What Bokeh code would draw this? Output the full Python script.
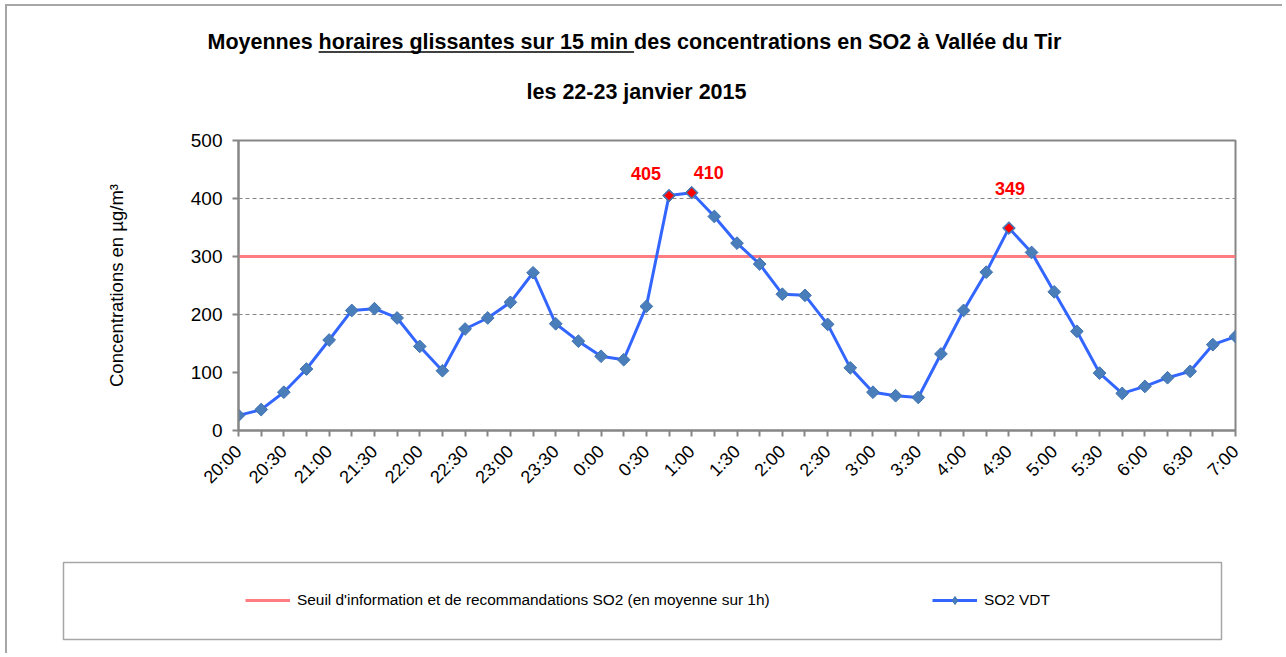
import math
from bokeh.plotting import figure
from bokeh.layouts import column
from bokeh.models import ColumnDataSource, Range1d, FixedTicker, Legend, LegendItem
from bokeh.core.properties import value
from bokeh.embed import file_html
from bokeh.resources import INLINE

# ---------------- data ----------------
heures = ["20:00", "20:15", "20:30", "20:45", "21:00", "21:15", "21:30", "21:45",
          "22:00", "22:15", "22:30", "22:45", "23:00", "23:15", "23:30", "23:45",
          "0:00", "0:15", "0:30", "0:45", "1:00", "1:15", "1:30", "1:45",
          "2:00", "2:15", "2:30", "2:45", "3:00", "3:15", "3:30", "3:45",
          "4:00", "4:15", "4:30", "4:45", "5:00", "5:15", "5:30", "5:45",
          "6:00", "6:15", "6:30", "6:45", "7:00"]
so2_vdt = [26, 36, 66, 106, 156, 207, 210, 194, 145, 103, 175, 194, 221, 272, 184, 154,
           128, 122, 214, 405, 410, 369, 323, 287, 235, 233, 183, 108, 66, 60, 57, 132,
           207, 273, 349, 307, 239, 171, 99, 64, 76, 91, 102, 148, 162]
seuil_so2 = 300
heures_annotees = ["0:45", "1:00", "4:30"]
y_ticks = [0, 100, 200, 300, 400, 500]
y_grid = [200, 400]

titre_debut = "Moyennes "
titre_souligne = "horaires glissantes sur 15 min "
titre_fin = "des concentrations en SO2 à Vallée du Tir"
titre2 = "les 22-23 janvier 2015"
label_y = "Concentrations en µg/m³"
leg_seuil = "Seuil d'information et de recommandations SO2 (en moyenne sur 1h)"
leg_so2 = "SO2 VDT"

# ---------------- layout / styles ----------------
FONT = "Liberation Sans"
GRAY = "#868686"
FRAME_GRAY = "#A6A6A6"
BLUE_LINE = "#3366FF"
BLUE_MARK = "#4A7EBB"
BLUE_EDGE = "#3F72AE"
RED_LINE = "#FF7C80"

OX, OY = 7, 6          # page offset of the layout
W = 1284 - OX          # width of every figure
H_A, H_B, H_C = 114, 425, 110
n = len(heures)
xs = list(range(n))
NAN = float("nan")


def no_align(f):
    if "frame_align" in f.properties():
        f.frame_align = False
    return f


def blank(height, y0):
    f = figure(width=W, height=height, output_backend="svg", toolbar_location=None,
               x_range=Range1d(OX, OX + W), y_range=Range1d(y0 + height, y0),
               x_axis_location=None, y_axis_location=None,
               min_border_left=0, min_border_right=0, min_border_top=0,
               min_border_bottom=0)
    f.outline_line_color = None
    f.xgrid.visible = False
    f.ygrid.visible = False
    return no_align(f)


# ---------------- header figure (titles) ----------------
fA = blank(H_A, OY)
TS = 21.5
t_left = 207
u0 = t_left + 5.168 * TS
u1 = u0 + 14.673 * TS
fA.text(x=[t_left], y=[41], text=[titre_debut + titre_souligne + titre_fin],
        text_font=value(FONT), text_font_size=f"{TS}px", text_font_style="bold",
        text_align="left", text_baseline="middle", text_color="black")
fA.segment(x0=[u0], y0=[51.5], x1=[u1], y1=[51.5], line_color="black", line_width=1.5)
fA.text(x=[636], y=[91], text=[titre2],
        text_font=value(FONT), text_font_size=f"{TS}px", text_font_style="bold",
        text_align="center", text_baseline="middle", text_color="black")

# ---------------- main chart ----------------
p = figure(width=W, height=H_B, output_backend="svg", toolbar_location=None,
           x_range=Range1d(0, n - 1), y_range=Range1d(0, 500),
           min_border_left=238 - OX, min_border_right=1284 - 1235,
           min_border_top=140 - (OY + H_A), min_border_bottom=(OY + H_A + H_B) - 430)
no_align(p)
p.outline_line_color = GRAY
p.outline_line_width = 2

p.xaxis.ticker = FixedTicker(ticks=list(range(0, n, 2)), minor_ticks=list(range(1, n, 2)))
p.xaxis.major_label_overrides = {i: heures[i] for i in range(0, n, 2)}
p.xaxis.major_label_orientation = math.pi / 4
p.xaxis.major_label_text_font = FONT
p.xaxis.major_label_text_font_size = "18px"
p.xaxis.major_label_text_color = "black"
p.xaxis.major_label_standoff = 12
p.xaxis.axis_line_color = GRAY
p.xaxis.axis_line_width = 2
p.xaxis.major_tick_line_color = GRAY
p.xaxis.major_tick_line_width = 2
p.xaxis.minor_tick_line_color = GRAY
p.xaxis.minor_tick_line_width = 2
p.xaxis.major_tick_out = 6
p.xaxis.major_tick_in = 0
p.xaxis.minor_tick_out = 6
p.xaxis.minor_tick_in = 0

p.yaxis.ticker = FixedTicker(ticks=y_ticks)
p.yaxis.major_label_text_font = FONT
p.yaxis.major_label_text_font_size = "19px"
p.yaxis.major_label_text_color = "black"
p.yaxis.major_label_standoff = 10
p.yaxis.axis_line_color = GRAY
p.yaxis.axis_line_width = 2
p.yaxis.major_tick_line_color = GRAY
p.yaxis.major_tick_line_width = 2
p.yaxis.major_tick_out = 6
p.yaxis.major_tick_in = 0
p.yaxis.minor_tick_line_color = None
p.yaxis.axis_label = label_y
p.yaxis.axis_label_text_font = FONT
p.yaxis.axis_label_text_font_size = "18.5px"
p.yaxis.axis_label_text_font_style = "normal"
p.yaxis.axis_label_text_color = "black"
p.yaxis.axis_label_standoff = 61

p.xgrid.grid_line_color = None
p.ygrid.ticker = FixedTicker(ticks=y_grid)
p.ygrid.grid_line_color = GRAY
p.ygrid.grid_line_width = 1
p.ygrid.grid_line_dash = "4 3"

p.line(xs, [seuil_so2] * n, line_color=RED_LINE, line_width=3)
p.line(xs, so2_vdt, line_color=BLUE_LINE, line_width=3)
p.scatter(xs, so2_vdt, marker="square", size=9, angle=math.pi / 4,
          fill_color=BLUE_MARK, line_color=BLUE_EDGE, line_width=1)

idx = [heures.index(h) for h in heures_annotees]
label_dx = [-23, 17, 1]
label_dy = [-22, -20, -40]
ann_src = ColumnDataSource(data=dict(
    x=idx, y=[so2_vdt[i] for i in idx], txt=[str(so2_vdt[i]) for i in idx],
    xo=label_dx, yo=label_dy))
p.scatter("x", "y", source=ann_src, marker="square", size=7, angle=math.pi / 4,
          fill_color="#FF0000", line_color=BLUE_EDGE, line_width=0.5)
p.text("x", "y", text="txt", source=ann_src, x_offset="xo", y_offset="yo",
       text_color="#FF0000", text_font_style="bold", text_font_size="18px",
       text_align="center", text_baseline="middle", text_font=value(FONT))

# ---------------- legend figure ----------------
fC = blank(H_C, OY + H_A + H_B)
fC.quad(left=[63], right=[1221], top=[562], bottom=[639], fill_alpha=0,
        line_color=FRAME_GRAY, line_width=1.5)
# legend-only renderers (no visible data of their own)
lg_seuil = fC.line(x=[NAN], y=[NAN], line_color=RED_LINE, line_width=3)
lg_line = fC.line(x=[NAN], y=[NAN], line_color=BLUE_LINE, line_width=3)
lg_pts = fC.scatter(x=[NAN], y=[NAN], marker="diamond", size=10,
                    fill_color=BLUE_MARK, line_color=BLUE_EDGE, line_width=1)
legend = Legend(items=[LegendItem(label=leg_seuil, renderers=[lg_seuil]),
                       LegendItem(label=leg_so2, renderers=[lg_line, lg_pts])],
                orientation="horizontal", location=(245 - OX, (OY + H_A + H_B + H_C) - 610),
                padding=0, spacing=0, margin=0,
                glyph_width=45, glyph_height=20, label_height=20,
                label_standoff=7, label_width=635,
                label_text_font=FONT, label_text_font_size="15.4px",
                label_text_color="black",
                border_line_color=None, background_fill_alpha=0)
fC.add_layout(legend, "center")

layout = column(column(fA), column(p), column(fC), spacing=0, margin=(OY, 0, 0, OX),
                styles={"box-shadow": f"-2px -2px 0 0 {FRAME_GRAY}"})

open("out.html", "w").write(file_html(layout, INLINE))
